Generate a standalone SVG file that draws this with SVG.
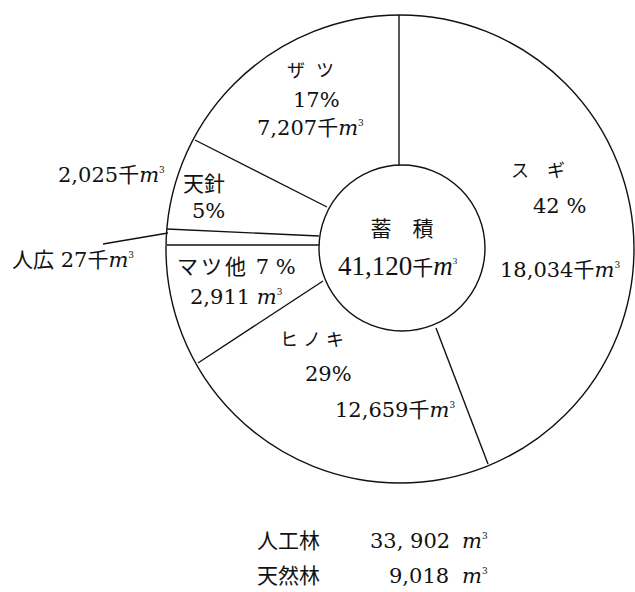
<svg xmlns="http://www.w3.org/2000/svg" width="635" height="592" viewBox="0 0 635 592">
<style>
.ln{stroke:#111;stroke-width:1.4;fill:none}
.t{font-family:"DejaVu Serif","Liberation Serif","Noto Sans CJK JP",serif;font-size:21px;fill:#111}
.c{font-family:"Liberation Serif","Noto Sans CJK JP",serif;font-size:27px;fill:#111}
.k{font-family:"Noto Sans CJK JP",sans-serif;font-size:18px;fill:#111}
.j{font-family:"Noto Sans CJK JP",sans-serif;font-size:21px}
.m{font-style:italic}
.s{font-size:9px;font-style:normal}
</style>
<rect width="635" height="592" fill="#fff"/>
<g id="connectors">
<circle class="ln" cx="400" cy="249" r="234"/>
<circle class="ln" cx="402" cy="248" r="83"/>
<line class="ln" x1="399" y1="15" x2="399" y2="165"/>
<line class="ln" x1="436" y1="328" x2="488" y2="464"/>
<line class="ln" x1="323" y1="281" x2="198" y2="363"/>
<line class="ln" x1="167" y1="245" x2="319" y2="245"/>
<line class="ln" x1="167" y1="229" x2="319" y2="236"/>
<line class="ln" x1="195" y1="140" x2="327" y2="207"/>
<line class="ln" x1="103" y1="244" x2="168" y2="233"/>
</g>
<g id="center">
<text class="c" x="402" y="236" text-anchor="middle"><tspan class="j" font-size="26">蓄　積</tspan></text>
<text class="c" x="338" y="275">41,120<tspan class="j" font-size="25">千</tspan><tspan class="m">m</tspan><tspan class="s" dy="-11">3</tspan></text>
</g>
<g id="sugi">
<text class="k" x="511" y="177" letter-spacing="18">スギ</text>
<text class="t" x="533" y="213">42 %</text>
<text class="t" x="500" y="277">18,034<tspan class="j">千</tspan><tspan class="m">m</tspan><tspan class="s" dy="-9">3</tspan></text>
</g>
<g id="zatsu">
<text class="k" x="287" y="77" letter-spacing="11">ザツ</text>
<text class="t" x="293" y="107">17%</text>
<text class="t" x="257" y="135" font-size="22">7,207<tspan class="j">千</tspan><tspan class="m">m</tspan><tspan class="s" dy="-9">3</tspan></text>
</g>
<g id="tenshin">
<text class="t" x="183" y="191"><tspan class="j" font-size="23">天針</tspan></text>
<text class="t" x="192" y="218" font-size="22">5%</text>
<text class="t" x="58" y="182" font-size="23">2,025<tspan class="j">千</tspan><tspan class="m">m</tspan><tspan class="s" dy="-9">3</tspan></text>
</g>
<g id="jinko">
<text class="t" x="12" y="267" font-size="23"><tspan class="j" font-size="22">人広</tspan> 27<tspan class="j">千</tspan><tspan class="m">m</tspan><tspan class="s" dy="-9">3</tspan></text>
</g>
<g id="matsu">
<text class="t" x="177" y="274"><tspan class="j" letter-spacing="3">マツ他</tspan> 7 %</text>
<text class="t" x="190" y="304">2,911 <tspan class="m">m</tspan><tspan class="s" dy="-9">3</tspan></text>
</g>
<g id="hinoki">
<text class="k" x="280" y="346" font-size="17" letter-spacing="5">ヒノキ</text>
<text class="t" x="305" y="381" font-size="22">29%</text>
<text class="t" x="335" y="417">12,659<tspan class="j">千</tspan><tspan class="m">m</tspan><tspan class="s" dy="-9">3</tspan></text>
</g>
<g id="totals">
<text class="t" x="257" y="548"><tspan class="j" font-size="26">人工林</tspan></text>
<text class="t" x="370" y="548" font-size="22">33, 902</text>
<text class="t" x="462" y="548" font-size="23"><tspan class="m">m</tspan><tspan class="s" dy="-9">3</tspan></text>
<text class="t" x="257" y="583"><tspan class="j" font-size="26">天然林</tspan></text>
<text class="t" x="389" y="583" font-size="22">9,018</text>
<text class="t" x="462" y="583" font-size="23"><tspan class="m">m</tspan><tspan class="s" dy="-9">3</tspan></text>
</g>
</svg>
